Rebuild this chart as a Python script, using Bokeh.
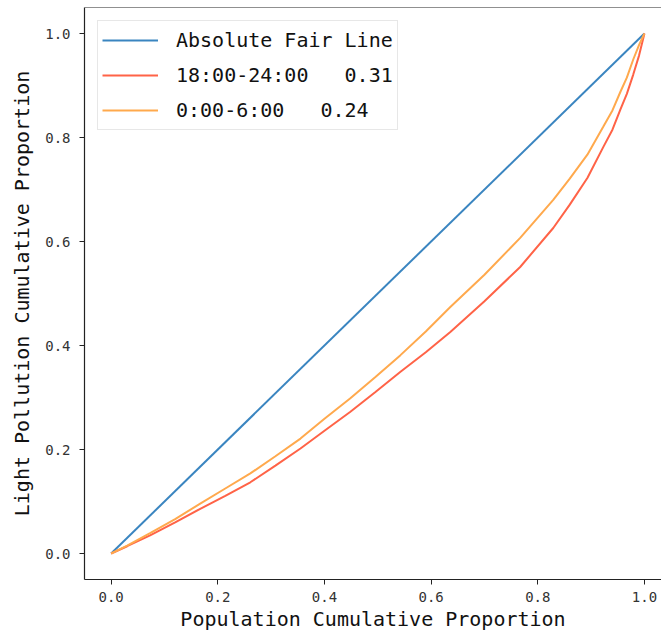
from bokeh.plotting import figure
from bokeh.models import Range1d, Legend, LegendItem, Span, FixedTicker, NumeralTickFormatter
from bokeh.embed import file_html
from bokeh.resources import INLINE

# data
fair_x = [0.0, 1.0]
fair_y = [0.0, 1.0]
pop_x = [0.0, 0.03, 0.073, 0.12, 0.167, 0.214, 0.261, 0.308, 0.355, 0.40, 0.448, 0.495, 0.542,
         0.59, 0.636, 0.70, 0.767, 0.829, 0.86, 0.893, 0.923, 0.94, 0.955, 0.967, 0.979, 0.99, 1.0]
night_y = [0.0, 0.014, 0.035, 0.060, 0.086, 0.111, 0.137, 0.169, 0.202, 0.236, 0.272, 0.310, 0.349,
           0.387, 0.426, 0.485, 0.551, 0.626, 0.671, 0.722, 0.782, 0.815, 0.854, 0.884, 0.921, 0.958, 1.0]
early_y = [0.0, 0.015, 0.039, 0.066, 0.096, 0.125, 0.154, 0.187, 0.221, 0.259, 0.298, 0.339, 0.381,
           0.427, 0.474, 0.536, 0.607, 0.680, 0.721, 0.767, 0.821, 0.852, 0.888, 0.915, 0.950, 0.978, 1.0]
labels = ["Absolute Fair Line", "18:00-24:00   0.31", "0:00-6:00   0.24"]
ticks = [0.0, 0.2, 0.4, 0.6, 0.8, 1.0]

FONT = "DejaVu Sans Mono"

p = figure(width=661, height=635, output_backend="svg", toolbar_location=None,
           x_range=Range1d(-0.05, 1.032), y_range=Range1d(-0.05, 1.05),
           min_border_left=84, min_border_top=7, min_border_right=0, min_border_bottom=56)
p.frame_width = 577
p.frame_height = 572
p.grid.visible = False
p.outline_line_color = None
p.background_fill_color = "white"
p.border_fill_color = "white"

r0 = p.line(fair_x, fair_y, line_color="#3a85c0", line_width=2)
r1 = p.line(pop_x, night_y, line_color="#ff6347", line_width=2)
r2 = p.line(pop_x, early_y, line_color="#ffa94d", line_width=2)

top = Span(location=1.05, dimension="width", line_color="#222222", line_width=1.2)
p.add_layout(top)

for ax in (p.xaxis[0], p.yaxis[0]):
    ax.ticker = FixedTicker(ticks=ticks)
    ax.formatter = NumeralTickFormatter(format="0.0")
    ax.minor_tick_line_color = None
    ax.major_tick_out = 5
    ax.major_tick_in = 0
    ax.axis_line_color = "#222222"
    ax.axis_line_width = 1.2
    ax.major_tick_line_color = "#222222"
    ax.major_label_text_font = FONT
    ax.major_label_text_font_size = "14px"
    ax.major_label_text_color = "#333333"
    ax.axis_label_text_font = FONT
    ax.axis_label_text_font_size = "20px"
    ax.axis_label_text_font_style = "normal"
    ax.axis_label_text_color = "#111111"

p.xaxis[0].axis_label = "Population Cumulative Proportion"
p.yaxis[0].axis_label = "Light Pollution Cumulative Proportion"
p.xaxis[0].major_label_standoff = 7
p.yaxis[0].major_label_standoff = 9
p.xaxis[0].axis_label_standoff = 2
p.yaxis[0].axis_label_standoff = 8

legend = Legend(items=[LegendItem(label=labels[0], renderers=[r0]),
                       LegendItem(label=labels[1], renderers=[r1]),
                       LegendItem(label=labels[2], renderers=[r2])],
                location="top_left")
legend.margin = 13
legend.padding = 4
legend.spacing = 5
legend.glyph_width = 56
legend.glyph_height = 30
legend.label_height = 30
legend.label_standoff = 18
legend.label_text_font = FONT
legend.label_text_font_size = "20px"
legend.label_text_color = "#111111"
legend.border_line_color = "#d0d0d0"
legend.border_line_width = 1
legend.background_fill_alpha = 0.9
p.add_layout(legend)

open("out.html", "w").write(file_html(p, INLINE))
